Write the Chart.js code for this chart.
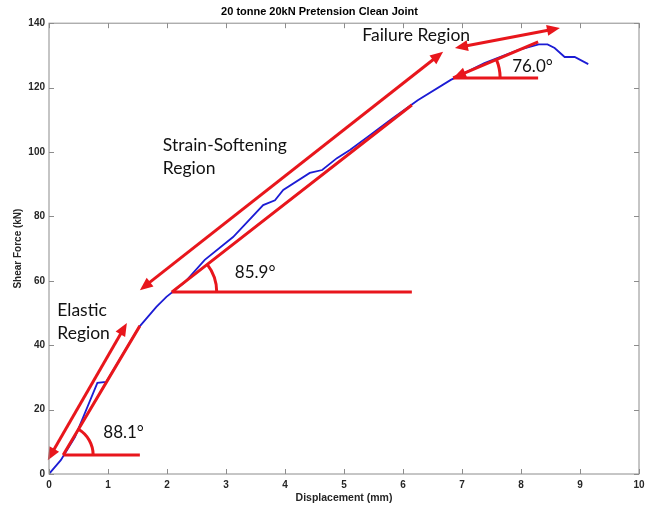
<!DOCTYPE html>
<html>
<head>
<meta charset="utf-8">
<script src="https://cdn.jsdelivr.net/npm/chart.js@4"></script>
<style>
  body { margin: 0; background: #fff; }
  canvas { display: block; }
</style>
</head>
<body>
<canvas id="chart" width="651" height="507"></canvas>
<script>
// measured curve (displacement mm, shear force kN)
const displacement = [0, 0.20, 0.44, 0.82, 0.97, 1.53, 1.82, 1.99, 2.30, 2.64, 3.12, 3.63, 3.83, 3.97, 4.42, 4.63, 4.88, 5.10, 5.40, 5.79, 6.25, 6.81, 7.04, 7.38, 7.96, 8.30, 8.45, 8.57, 8.74, 8.91, 9.14];
const shearForce   = [0, 4.3, 11.5, 28.3, 28.6, 45.7, 51.9, 55.0, 59.5, 66.5, 73.6, 83.5, 85.0, 88.2, 93.5, 94.4, 98.1, 100.6, 104.7, 110.0, 116.1, 122.4, 124.5, 127.6, 131.7, 133.4, 133.4, 132.3, 129.5, 129.5, 127.3];

const xTicks = [0, 1, 2, 3, 4, 5, 6, 7, 8, 9, 10];
const yTicks = [0, 20, 40, 60, 80, 100, 120, 140];

// red annotations in data coordinates
const doubleArrows = [
  [[-0.02, 4.3], [1.32, 46.9]],
  [[1.54, 57.1], [6.68, 131.1]],
  [[6.88, 132.3], [8.66, 138.5]]
];
const slopeStart = [[0.24, 5.9], [2.08, 56.5], [6.85, 123.0]];
const slopeEnd   = [[1.54, 46.0], [6.15, 114.6], [8.29, 134.2]];
const slopeAngle = ['88.1°', '85.9°', '76.0°'];
const angleLabelAt = [[0.92, 13.0], [3.15, 62.7], [7.85, 126.7]];
const regionLabels = ['Failure Region', 'Strain-Softening', 'Region', 'Elastic', 'Region'];
const regionLabelAt = [[5.31, 136.3], [1.93, 102.2], [1.93, 95.0], [0.14, 50.9], [0.14, 43.8]];

const RED = '#e8161c';
const arcRadius = [30, 45, 47];

function arrowHead(ctx, x0, y0, x1, y1) {
  const a = Math.atan2(y1 - y0, x1 - x0);
  const len = 13, half = 5.5;
  ctx.beginPath();
  ctx.moveTo(x1, y1);
  ctx.lineTo(x1 - len * Math.cos(a) + half * Math.sin(a), y1 - len * Math.sin(a) - half * Math.cos(a));
  ctx.lineTo(x1 - len * Math.cos(a) - half * Math.sin(a), y1 - len * Math.sin(a) + half * Math.cos(a));
  ctx.closePath();
  ctx.fill();
}

const framePlugin = {
  id: 'frame',
  afterDraw(chart) {
    const { ctx, chartArea: a, scales } = chart;
    ctx.save();
    ctx.strokeStyle = '#8c8c8c';
    ctx.lineWidth = 1;
    ctx.strokeRect(a.left, a.top, a.right - a.left, a.bottom - a.top);
    ctx.beginPath();
    xTicks.forEach(v => {
      const px = Math.round(scales.x.getPixelForValue(v)) + 0.5;
      ctx.moveTo(px, a.bottom); ctx.lineTo(px, a.bottom - 5);
      ctx.moveTo(px, a.top); ctx.lineTo(px, a.top + 5);
    });
    yTicks.forEach(v => {
      const py = Math.round(scales.y.getPixelForValue(v)) + 0.5;
      ctx.moveTo(a.left, py); ctx.lineTo(a.left + 5, py);
      ctx.moveTo(a.right, py); ctx.lineTo(a.right - 5, py);
    });
    ctx.stroke();
    ctx.restore();
  }
};

const annotationPlugin = {
  id: 'regions',
  afterDatasetsDraw(chart) {
    const { ctx, scales } = chart;
    const px = p => [scales.x.getPixelForValue(p[0]), scales.y.getPixelForValue(p[1])];
    ctx.save();
    ctx.strokeStyle = RED;
    ctx.fillStyle = RED;
    ctx.lineWidth = 3;
    ctx.lineCap = 'butt';

    doubleArrows.forEach(([p, q]) => {
      const [x0, y0] = px(p), [x1, y1] = px(q);
      const a = Math.atan2(y1 - y0, x1 - x0);
      ctx.beginPath();
      ctx.moveTo(x0 + 8 * Math.cos(a), y0 + 8 * Math.sin(a));
      ctx.lineTo(x1 - 8 * Math.cos(a), y1 - 8 * Math.sin(a));
      ctx.stroke();
      arrowHead(ctx, x0, y0, x1, y1);
      arrowHead(ctx, x1, y1, x0, y0);
    });

    slopeStart.forEach((s, i) => {
      const [x0, y0] = px(s), [x1, y1] = px(slopeEnd[i]);
      ctx.beginPath();
      ctx.moveTo(x0, y0); ctx.lineTo(x1, y1);
      ctx.moveTo(x0, y0); ctx.lineTo(x1, y0);
      ctx.stroke();
      const ang = Math.atan2(y1 - y0, x1 - x0);
      ctx.beginPath();
      ctx.arc(x0, y0, arcRadius[i], ang, 0);
      ctx.stroke();
      if (i === 2) arrowHead(ctx, x1, y1, x0, y0);
    });

    ctx.fillStyle = '#111';
    ctx.textBaseline = 'middle';
    ctx.textAlign = 'left';
    ctx.font = '17px Lato, "Open Sans", sans-serif';
    slopeAngle.forEach((t, i) => {
      const [x, y] = px(angleLabelAt[i]);
      ctx.fillText(t, x, y);
    });
    ctx.font = '17.5px Lato, "Open Sans", sans-serif';
    regionLabels.forEach((t, i) => {
      const [x, y] = px(regionLabelAt[i]);
      ctx.fillText(t, x, y);
    });
    ctx.restore();
  }
};

const points = displacement.map((x, i) => ({ x: x, y: shearForce[i] }));
const tickFont = { family: '"Liberation Sans", Arial, sans-serif', size: 10, weight: 'bold' };

new Chart(document.getElementById('chart').getContext('2d'), {
  type: 'scatter',
  data: {
    datasets: [{
      data: points,
      showLine: true,
      borderColor: '#1c1cd4',
      borderWidth: 1.8,
      pointRadius: 0,
      tension: 0
    }]
  },
  options: {
    responsive: false,
    animation: false,
    layout: { padding: { left: 0, right: 12, top: 0, bottom: 0 } },
    plugins: {
      legend: { display: false },
      tooltip: { enabled: false },
      title: {
        display: true,
        text: '20 tonne 20kN Pretension Clean Joint',
        color: '#000',
        font: { family: '"Liberation Sans", Arial, sans-serif', size: 11, weight: 'bold' },
        padding: { top: 5, bottom: 5 }
      }
    },
    scales: {
      x: {
        type: 'linear',
        min: 0, max: 10,
        afterFit: s => { s.height = 33; },
        afterBuildTicks: s => { s.ticks = xTicks.map(v => ({ value: v })); },
        ticks: { color: '#262626', font: tickFont, padding: 5 },
        grid: { display: false, drawTicks: false },
        border: { display: false },
        title: {
          display: true,
          text: 'Displacement (mm)',
          color: '#262626',
          font: { family: '"Liberation Sans", Arial, sans-serif', size: 10.5, weight: 'bold' },
          padding: { top: 0, bottom: 3 }
        }
      },
      y: {
        type: 'linear',
        min: 0, max: 140,
        afterFit: s => { s.width = 49; },
        afterBuildTicks: s => { s.ticks = yTicks.map(v => ({ value: v })); },
        ticks: { color: '#262626', font: tickFont, padding: 4 },
        grid: { display: false, drawTicks: false },
        border: { display: false },
        title: {
          display: true,
          text: 'Shear Force (kN)',
          color: '#262626',
          font: { family: '"Liberation Sans", Arial, sans-serif', size: 10, weight: 'bold' },
          padding: { top: 12, bottom: 0 }
        }
      }
    }
  },
  plugins: [framePlugin, annotationPlugin]
});
</script>
</body>
</html>
